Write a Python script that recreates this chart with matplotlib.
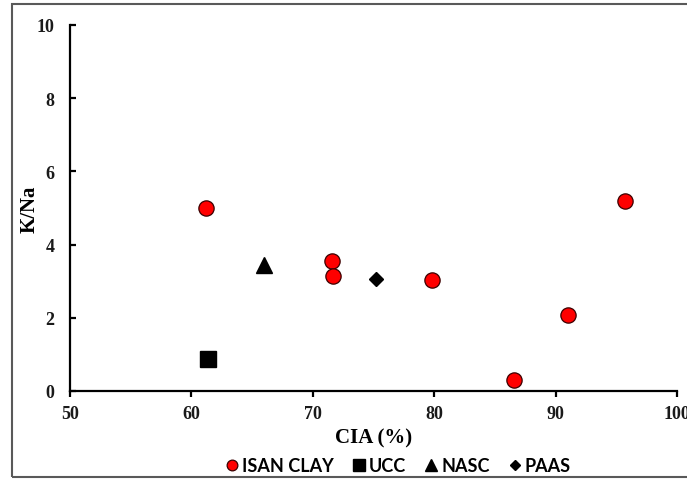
import matplotlib

matplotlib.use("Agg")
import matplotlib.pyplot as plt
from matplotlib.patches import Rectangle

# ISAN clay samples
clay_cia = [61.2, 71.6, 71.7, 79.8, 86.6, 91.0, 95.7]
clay_kna = [5.0, 3.55, 3.14, 3.02, 0.30, 2.08, 5.2]

# reference compositions
ucc_cia, ucc_kna = [61.4], [0.88]
nasc_cia, nasc_kna = [66.0], [3.44]
paas_cia, paas_kna = [75.2], [3.07]

xticks = [50, 60, 70, 80, 90, 100]
yticks = [0, 2, 4, 6, 8, 10]

plt.rcParams["font.family"] = "Liberation Serif"
plt.rcParams["font.weight"] = "bold"

W, H = 687, 481
fig = plt.figure(figsize=(W / 100, H / 100), dpi=100)
ax = fig.add_axes([70 / W, (H - 392) / H, (677 - 70) / W, (392 - 26) / H])

# outer frame like the spreadsheet chart border
fig.patches.append(Rectangle((12 / W, 3 / H), 1.0, (476 - 3) / H,
                             transform=fig.transFigure, fill=False,
                             edgecolor="#595959", lw=1.5))

ax.plot(clay_cia, clay_kna, "o", ms=11, mfc="#ff0000", mec="#3a0000",
        mew=0.9, label="ISAN CLAY", clip_on=False)
ax.plot(ucc_cia, ucc_kna, "s", ms=12, color="black", label="UCC")
ax.plot(nasc_cia, nasc_kna, "^", ms=12, color="black", label="NASC")
ax.plot(paas_cia, paas_kna, "D", ms=7.5, color="black", label="PAAS")

ax.set_xlim(50, 100)
ax.set_ylim(0, 10)
ax.set_xticks(xticks)
ax.set_yticks(yticks)

for s in ("top", "right"):
    ax.spines[s].set_visible(False)
for s in ("left", "bottom"):
    ax.spines[s].set_linewidth(1.6)

ax.tick_params(axis="x", direction="out", length=4, width=1.6, pad=6,
               labelsize=13, labelcolor="#1a1a1a")
ax.tick_params(axis="y", direction="in", length=4, width=1.6, pad=11,
               labelsize=13, labelcolor="#1a1a1a")

ax.set_xlabel("CIA (%)", fontweight="bold", fontsize=15, labelpad=4)
ax.set_ylabel("K/Na", fontweight="bold", fontsize=15)
ax.yaxis.set_label_coords(-0.05, 0.5)

fig.legend(loc="center", bbox_to_anchor=(397 / W, (H - 467) / H), ncol=4,
           frameon=False, handletextpad=0.05, columnspacing=0.9,
           handlelength=1.0, markerscale=0.7,
           prop={"family": "Lato", "weight": "bold", "size": 13})

fig.savefig("out.png", dpi=100)
